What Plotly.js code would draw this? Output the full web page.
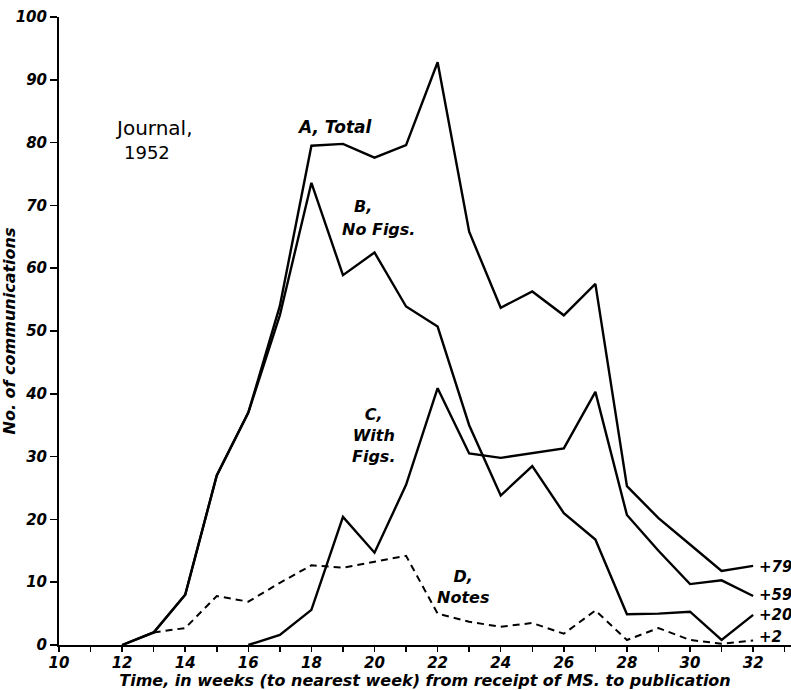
<!DOCTYPE html>
<html>
<head>
<meta charset="utf-8">
<script src="https://cdn.plot.ly/plotly-3.0.1.min.js"></script>
<style>html,body{margin:0;padding:0;background:#fff;}#chart{width:791px;height:690px;}</style>
</head>
<body>
<div id="chart"></div>
<script>
// weeks (to nearest week) from receipt of MS. to publication
const weeksAB = [12,13,14,15,16,17,18,19,20,21,22,23,24,25,26,27,28,29,30,31,32];
const totalA  = [0,2,8,27,37,54,79.5,79.8,77.6,79.6,92.8,65.8,53.7,56.3,52.5,57.5,25.3,20.2,16,11.8,12.6];
const noFigsB = [0,2,8,27,37,52.5,73.6,58.9,62.5,53.9,50.7,35,23.8,28.5,21,16.8,4.9,5,5.3,0.8,4.8];
const weeksC  = [16,17,18,19,20,21,22,23,24,25,26,27,28,29,30,31,32];
const withFigsC = [0,1.6,5.6,20.4,14.7,25.5,40.9,30.5,29.8,30.5,31.3,40.3,20.7,15,9.7,10.3,7.8];
const weeksD  = [13,14,15,16,17,18,19,20,21,22,23,24,25,26,27,28,29,30,31,32];
const notesD  = [2,2.7,7.8,6.9,9.9,12.7,12.3,13.3,14.2,5,3.7,2.9,3.5,1.8,5.5,0.8,2.7,0.8,0.2,0.7];
const xTicks  = [10,12,14,16,18,20,22,24,26,28,30,32];
const yTicks  = [0,10,20,30,40,50,60,70,80,90,100];
const tailLabels = ['+79','+59','+20','+2'];

const FONT = 'DejaVu Sans';
const line = (w) => ({color:'#000', width:w});

const traces = [
  {x: weeksAB, y: totalA, name:'A, Total', mode:'lines', line: line(2.4), cliponaxis:false},
  {x: weeksAB, y: noFigsB, name:'B, No Figs.', mode:'lines', line: line(2.4), cliponaxis:false},
  {x: weeksC, y: withFigsC, name:'C, With Figs.', mode:'lines', line: line(2.4), cliponaxis:false},
  {x: weeksD, y: notesD, name:'D, Notes', mode:'lines', line: Object.assign(line(2), {dash:'7px,5px'}), cliponaxis:false}
];

const itFont = (s, w) => ({family: FONT, size: s, color:'#000', style:'italic', weight: w || 'normal'});

function ann(text, x, y, size, italic, xanchor, weight) {
  return {text: italic ? '<i>' + text + '</i>' : text, x, y, xref:'x', yref:'y', showarrow:false,
    xanchor: xanchor || 'center', yanchor:'middle', align:'center',
    font: italic ? itFont(size, weight) : {family: FONT, size, color:'#000', weight: weight || 'normal'}};
}

const annotations = [
  ann('Journal,', 13.0, 82.3, 20, false),
  ann('1952', 12.8, 78.5, 18, false),
  ann('A, Total', 18.75, 82.5, 17, true, 'center', 'bold'),
  ann('B,', 19.64, 69.8, 16, true, 'center', 'bold'),
  ann('No Figs.', 20.14, 66.1, 16, true, 'center', 'bold'),
  ann('C,<br>With<br>Figs.', 19.96, 33.4, 16, true, 'center', 'bold'),
  ann('D,<br>Notes', 22.82, 9.3, 16, true, 'center', 'bold'),
  ann(tailLabels[0], 32.13, 12.4, 15, true, 'left', 'bold'),
  ann(tailLabels[1], 32.13, 8.0, 15, true, 'left', 'bold'),
  ann(tailLabels[2], 32.13, 4.8, 15, true, 'left', 'bold'),
  ann(tailLabels[3], 32.13, 1.3, 15, true, 'left', 'bold')
];

const layout = {
  width: 791, height: 690,
  margin: {l:59, r:0, t:17, b:45},
  font: {family: FONT, size: 15, color: '#000'},
  paper_bgcolor:'#fff', plot_bgcolor:'#fff',
  showlegend:false,
  xaxis: {
    range:[10, 33.2], tickmode:'array', tickvals: xTicks, ticktext: xTicks.map(v => '<i><b>' + v + '</b></i>'),
    ticks:'outside', ticklen:5, tickwidth:1.5, tickcolor:'#000', ticklabelstandoff: -2,
    minor: {tickmode:'linear', tick0:10, dtick:1, ticks:'outside', ticklen:5, tickwidth:1.5, tickcolor:'#000'},
    showline:true, linecolor:'#000', linewidth:2, showgrid:false, zeroline:false,
    tickfont: {family: FONT, size: 15, color: '#000'},
    title: {text:'<i><b>Time, in weeks (to nearest week) from receipt of MS. to publication</b></i>', font: {family: FONT, size: 16, color:'#000'}, standoff: 4}
  },
  yaxis: {
    range:[0, 100], tickmode:'array', tickvals: yTicks, ticktext: yTicks.map(v => '<i><b>' + v + '</b></i>'),
    ticks:'outside', ticklen:7, tickwidth:1.5, tickcolor:'#000',
    showline:true, linecolor:'#000', linewidth:2, showgrid:false, zeroline:false,
    tickfont: {family: FONT, size: 15, color: '#000'},
    title: {text:'<i><b>No. of communications</b></i>', font: {family: FONT, size: 16, color:'#000'}, standoff: 0}
  },
  annotations
};

Plotly.newPlot('chart', traces, layout, {staticPlot:true, displayModeBar:false});
</script>
</body>
</html>
